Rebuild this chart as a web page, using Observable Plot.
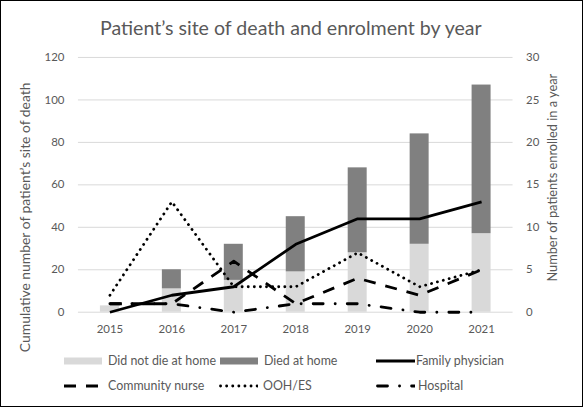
<!DOCTYPE html>
<html>
<head>
<meta charset="utf-8">
<script src="https://cdn.jsdelivr.net/npm/d3@7"></script>
<script src="https://cdn.jsdelivr.net/npm/@observablehq/plot@0.6"></script>
<style>
  html, body { margin: 0; padding: 0; background: #fff; }
  #wrap { position: relative; width: 583px; height: 407px; box-sizing: border-box; border: 1.5px solid #000; font-family: Lato, "Open Sans", sans-serif; color: #595959; overflow: hidden; background: #fff; }
  #wrap > * { position: absolute; }
  #title { white-space: nowrap; font-size: 18px; line-height: 1.2; }
  .vlab { font-size: 13px; white-space: nowrap; line-height: 1.2; }
  #chart { left: -1.5px; top: -1.5px; }
  .leg { display: flex; align-items: center; white-space: nowrap; line-height: 1.2; }
</style>
</head>
<body>
<div id="wrap">
  <div id="title">Patient’s site of death and enrolment by year</div>
  <div id="chart"></div>
  <div class="vlab" id="ylab">Cumulative number of patient’s site of death</div>
  <div class="vlab" id="y2lab">Number of patients enrolled in a year</div>
</div>
<script>
const years = ["2015", "2016", "2017", "2018", "2019", "2020", "2021"];
const didNotDieAtHome = [3, 11, 15, 19, 28, 32, 37];
const diedAtHome = [0, 9, 17, 26, 40, 52, 70];
const familyPhysician = [0, 2, 3, 8, 11, 11, 13];
const communityNurse = [1, 1, 6, 1, 4, 2, 5];
const oohEs = [2, 13, 3, 3, 7, 3, 5];
const hospital = [1, 1, 0, 1, 1, 0, 0];
const leftTicks = [0, 20, 40, 60, 80, 100, 120];
const rightTicks = [0, 5, 10, 15, 20, 25, 30];

const ratio = leftTicks[leftTicks.length - 1] / rightTicks[rightTicks.length - 1];

const barRows = [];
years.forEach((y, i) => {
  barRows.push({year: y, type: "Did not die at home", value: didNotDieAtHome[i]});
  barRows.push({year: y, type: "Died at home", value: diedAtHome[i]});
});
const rows = arr => years.map((y, i) => ({year: y, v: arr[i] * ratio}));

const lineStyles = [
  {name: "Family physician", data: familyPhysician, dash: null, cap: "butt"},
  {name: "Community nurse", data: communityNurse, dash: "12,10", cap: "butt"},
  {name: "OOH/ES", data: oohEs, dash: "0.1,6", cap: "round"},
  {name: "Hospital", data: hospital, dash: "10,12,0.1,12", cap: "round"}
];

// measure a text width at a given font size
const meas = document.createElement("span");
meas.style.cssText = "position:absolute;visibility:hidden;white-space:nowrap;font-family:Lato,'Open Sans',sans-serif;";
document.body.appendChild(meas);
function fitSize(text, target, base = 20) {
  meas.style.fontSize = base + "px";
  meas.textContent = text;
  return base * target / meas.getBoundingClientRect().width;
}
const tickSize = fitSize("2015", 26.5);

const W = 583, H = 345;
const chart = Plot.plot({
  width: W,
  height: H,
  marginTop: 57,
  marginBottom: H - 312,
  marginLeft: 78,
  marginRight: W - 513,
  style: {fontFamily: "Lato, 'Open Sans', sans-serif", fontSize: tickSize + "px", color: "#595959", background: "transparent"},
  x: {domain: years, paddingInner: 0.7, paddingOuter: 0.35, label: null},
  y: {domain: [0, leftTicks[leftTicks.length - 1]], label: null},
  color: {domain: ["Did not die at home", "Died at home"], range: ["#d9d9d9", "#808080"]},
  marks: [
    Plot.gridY(leftTicks, {stroke: "#d9d9d9", strokeOpacity: 1, strokeWidth: 1}),
    Plot.barY(barRows, {x: "year", y: "value", fill: "type"}),
    ...lineStyles.map(s => Plot.lineY(rows(s.data), {
      x: "year", y: "v", stroke: "#000", strokeWidth: 2.8,
      strokeDasharray: s.dash, strokeLinecap: s.cap, strokeLinejoin: "round"
    })),
    Plot.axisY(leftTicks, {anchor: "left", tickSize: 0, tickPadding: 14, label: null, fontSize: tickSize}),
    Plot.axisY(rightTicks.map(d => d * ratio), {anchor: "right", tickSize: 0, tickPadding: 13, label: null, tickFormat: d => String(d / ratio), fontSize: tickSize}),
    Plot.axisX({tickSize: 0, tickPadding: 13, label: null, fontSize: tickSize})
  ]
});
document.getElementById("chart").appendChild(chart);

function placeCenter(el, cx, cy, rotate) {
  const w = el.offsetWidth, h = el.offsetHeight;
  el.style.left = (cx - w / 2) + "px";
  el.style.top = (cy - h / 2) + "px";
  if (rotate) el.style.transform = "rotate(-90deg)";
}
// title
const title = document.getElementById("title");
title.style.fontSize = fitSize(title.textContent, 382) + "px";
placeCenter(title, 290, 26.5, false);

// axis titles
const ylab = document.getElementById("ylab");
const y2lab = document.getElementById("y2lab");
ylab.style.fontSize = fitSize(ylab.textContent, 270) + "px";
y2lab.style.fontSize = fitSize(y2lab.textContent, 208) + "px";
placeCenter(ylab, 25, 216, true);
placeCenter(y2lab, 552, 176, true);

// legend
const wrap = document.getElementById("wrap");
const legSize = fitSize("Did not die at home", 108);
const legendItems = [
  {label: "Did not die at home", kind: "rect", color: "#d9d9d9", x: 63, y: 360, gap: 5},
  {label: "Died at home", kind: "rect", color: "#808080", x: 219, y: 360, gap: 5},
  {label: "Family physician", kind: "line", style: lineStyles[0], x: 375, y: 360, gap: 1},
  {label: "Community nurse", kind: "line", style: lineStyles[1], x: 63, y: 385, gap: 5},
  {label: "OOH/ES", kind: "line", style: lineStyles[2], x: 218, y: 385, gap: 5},
  {label: "Hospital", kind: "line", style: lineStyles[3], x: 375, y: 385, gap: 3}
];
legendItems.forEach(it => {
  const d = document.createElement("div");
  d.className = "leg";
  d.style.fontSize = legSize + "px";
  const ns = "http://www.w3.org/2000/svg";
  const s = document.createElementNS(ns, "svg");
  s.setAttribute("width", 39);
  s.setAttribute("height", 10);
  s.style.marginRight = it.gap + "px";
  if (it.kind === "rect") {
    const r = document.createElementNS(ns, "rect");
    r.setAttribute("x", 0); r.setAttribute("y", 1.5);
    r.setAttribute("width", 38); r.setAttribute("height", 7);
    r.setAttribute("fill", it.color);
    s.appendChild(r);
  } else {
    const l = document.createElementNS(ns, "line");
    l.setAttribute("x1", it.style.cap === "round" ? 1.5 : 0); l.setAttribute("x2", 39);
    l.setAttribute("y1", 5); l.setAttribute("y2", 5);
    l.setAttribute("stroke", "#000");
    l.setAttribute("stroke-width", 2.8);
    l.setAttribute("stroke-linecap", it.style.cap);
    if (it.style.dash) l.setAttribute("stroke-dasharray", it.style.dash);
    s.appendChild(l);
  }
  d.appendChild(s);
  const t = document.createElement("span");
  t.textContent = it.label;
  d.appendChild(t);
  wrap.appendChild(d);
  d.style.left = it.x + "px";
  d.style.top = (it.y - d.offsetHeight / 2) + "px";
});
</script>
</body>
</html>
